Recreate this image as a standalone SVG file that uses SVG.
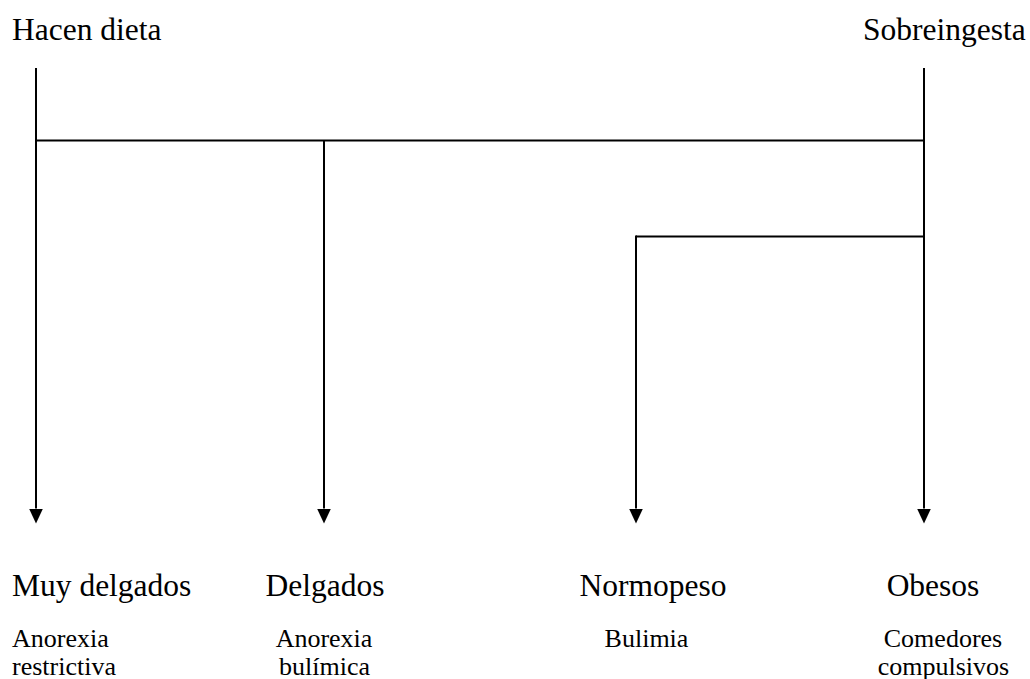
<svg xmlns="http://www.w3.org/2000/svg" width="1030" height="679" viewBox="0 0 1030 679">
<style>
.big{font-family:"Liberation Serif","Times New Roman",serif;font-size:31.5px;fill:#000}
.sm{font-family:"Liberation Serif","Times New Roman",serif;font-size:26px;fill:#000}
.ln{stroke:#000;stroke-width:2;fill:none}
.mid{text-anchor:middle}
</style>
<defs>
<marker id="ah" viewBox="0 0 15 14" refX="0" refY="7" markerWidth="15" markerHeight="14" markerUnits="userSpaceOnUse" orient="auto">
<path d="M0,0 L15,7 L0,14 Z" fill="#000"/>
</marker>
</defs>
<rect width="1030" height="679" fill="#fff"/>
<g id="hacen-dieta"><text class="big" x="12" y="40">Hacen dieta</text></g>
<g id="sobreingesta"><text class="big" x="863" y="40">Sobreingesta</text></g>
<g id="connectors">
<line class="ln" x1="36" y1="68" x2="36" y2="508.5" marker-end="url(#ah)"/>
<line class="ln" x1="924" y1="68" x2="924" y2="508.5" marker-end="url(#ah)"/>
<line class="ln" x1="36" y1="140.5" x2="924" y2="140.5"/>
<line class="ln" x1="324" y1="140.5" x2="324" y2="508.5" marker-end="url(#ah)"/>
<line class="ln" x1="636" y1="236.5" x2="924" y2="236.5"/>
<line class="ln" x1="636" y1="235.5" x2="636" y2="508.5" marker-end="url(#ah)"/>
</g>
<g id="muy-delgados">
<text class="big" x="12" y="596">Muy delgados</text>
<text class="sm" x="12" y="647">Anorexia</text>
<text class="sm" x="12" y="675">restrictiva</text>
</g>
<g id="delgados">
<text class="big mid" x="325" y="596">Delgados</text>
<text class="sm mid" x="324" y="647">Anorexia</text>
<text class="sm mid" x="324.5" y="675">bulímica</text>
</g>
<g id="normopeso">
<text class="big mid" x="653" y="596">Normopeso</text>
<text class="sm mid" x="646.5" y="647">Bulimia</text>
</g>
<g id="obesos">
<text class="big mid" x="933" y="596">Obesos</text>
<text class="sm mid" x="943" y="647">Comedores</text>
<text class="sm mid" x="943.5" y="675">compulsivos</text>
</g>
</svg>
